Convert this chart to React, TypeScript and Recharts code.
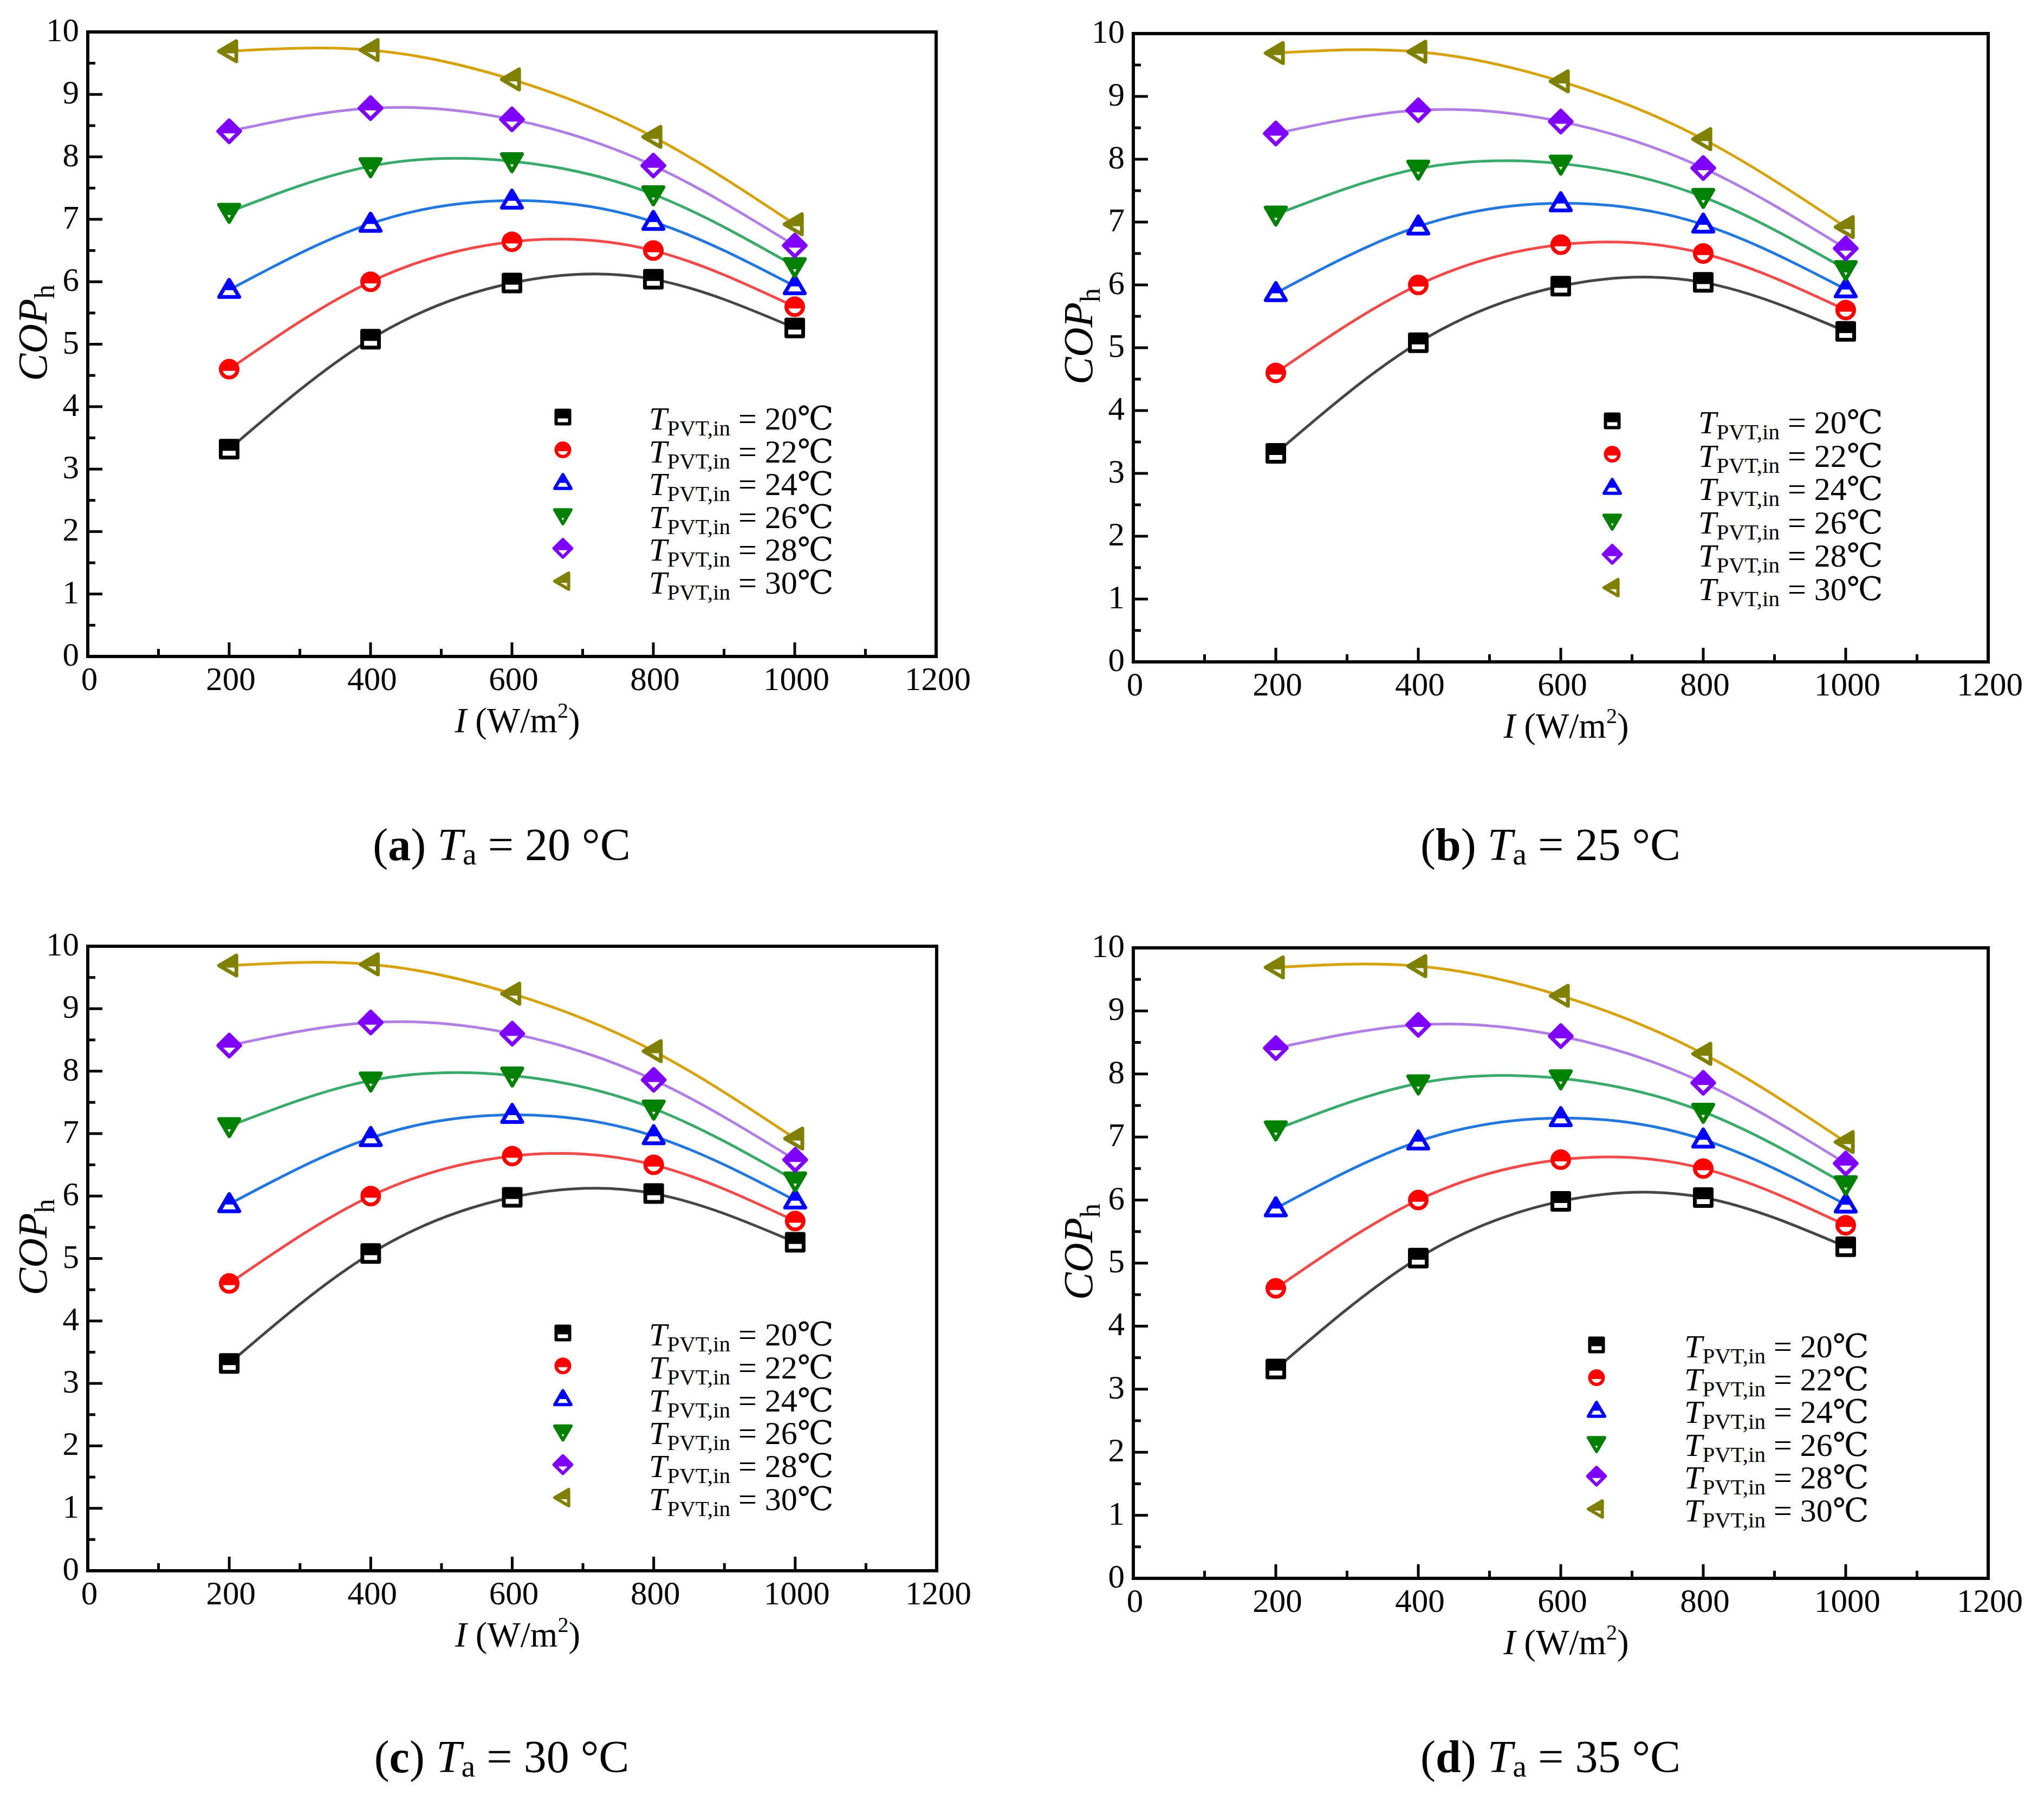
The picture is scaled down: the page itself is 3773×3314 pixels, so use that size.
import React from 'react';
import { LineChart, Line, XAxis, YAxis, ReferenceArea, Legend, Label } from 'recharts';

// ---------- data ----------
const irradiance = [200, 400, 600, 800, 1000];
const copIn20 = [3.32, 5.08, 5.98, 6.04, 5.26];
const copIn22 = [4.6, 6.0, 6.64, 6.5, 5.6];
const copIn24 = [5.87, 6.93, 7.3, 6.96, 5.93];
const copIn26 = [7.12, 7.85, 7.93, 7.4, 6.25];
const copIn28 = [8.41, 8.78, 8.6, 7.86, 6.58];
const copIn30 = [9.69, 9.71, 9.24, 8.32, 6.92];

const xTicks = [0, 100, 200, 300, 400, 500, 600, 700, 800, 900, 1000, 1100, 1200];
const yTicks = [0, 0.5, 1, 1.5, 2, 2.5, 3, 3.5, 4, 4.5, 5, 5.5, 6, 6.5, 7, 7.5, 8, 8.5, 9, 9.5, 10];

const seriesKeys = ['t20', 't22', 't24', 't26', 't28', 't30'];
const seriesTemps = ['20', '22', '24', '26', '28', '30'];
const seriesValues = [copIn20, copIn22, copIn24, copIn26, copIn28, copIn30];
const markerColors = ['#000000', '#ff0000', '#0000ff', '#008000', '#8000ff', '#808000'];
const lineColors = ['#454545', '#f04a4a', '#2277dd', '#3aaa6c', '#b07fe3', '#d6a20c'];
const markerShapes = ['square', 'circle', 'up', 'down', 'diamond', 'left'];

const panelLetters = ['a', 'b', 'c', 'd'];
const ambientTemps = ['20', '25', '30', '35'];

const data = irradiance.map((I, i) => {
  const row: any = { I };
  seriesKeys.forEach((k, j) => {
    row[k] = seriesValues[j][i];
  });
  return row;
});

// ---------- layout ----------
const SERIF = "'Liberation Serif', 'Times New Roman', 'DejaVu Serif', serif";
const DEG = "'Liberation Serif', 'DejaVu Serif', 'Noto Sans CJK SC', serif";

// plot box in chart coords: left = yAxisW, top = mTop, bottom = height - xAxisH
const panels = [
  { left: 0, top: 0, width: 1886, height: 1657, yAxisW: 162, xAxisH: 445, mTop: 59, mRight: 158, symX: 1039, row0: 770, textDx: 159, gap: 60.6, capX: 926, capY: 1588 },
  { left: 1886, top: 0, width: 1887, height: 1657, yAxisW: 206, xAxisH: 435, mTop: 62, mRight: 103, symX: 1090, row0: 777, textDx: 159, gap: 61.6, capX: 2862, capY: 1588 },
  { left: 0, top: 1657, width: 1886, height: 1657, yAxisW: 162, xAxisH: 414, mTop: 90, mRight: 157, symX: 1039, row0: 804, textDx: 159, gap: 60.8, capX: 926, capY: 3272 },
  { left: 1886, top: 1657, width: 1887, height: 1657, yAxisW: 206, xAxisH: 400, mTop: 93, mRight: 103, symX: 1061, row0: 826, textDx: 162, gap: 60.6, capX: 2862, capY: 3272 },
];

// ---------- markers ----------
function shapePoints(shape: string, cx: number, cy: number, s: number): number[][] {
  switch (shape) {
    case 'square':
      return [[cx - s, cy - s], [cx + s, cy - s], [cx + s, cy + s], [cx - s, cy + s]];
    case 'up':
      return [[cx, cy - 1.2 * s], [cx + 1.2 * s, cy + 0.85 * s], [cx - 1.2 * s, cy + 0.85 * s]];
    case 'down':
      return [[cx - 1.2 * s, cy - 0.85 * s], [cx + 1.2 * s, cy - 0.85 * s], [cx, cy + 1.2 * s]];
    case 'diamond':
      return [[cx, cy - 1.3 * s], [cx + 1.3 * s, cy], [cx, cy + 1.3 * s], [cx - 1.3 * s, cy]];
    case 'left':
    default:
      return [[cx - 1.2 * s, cy], [cx + 0.85 * s, cy - 1.2 * s], [cx + 0.85 * s, cy + 1.2 * s]];
  }
}

function clipAbove(pts: number[][], L: number): number[][] {
  const out: number[][] = [];
  for (let i = 0; i < pts.length; i++) {
    const a = pts[i];
    const b = pts[(i + 1) % pts.length];
    const ain = a[1] <= L;
    const bin = b[1] <= L;
    if (ain) out.push(a);
    if (ain !== bin) {
      const t = (L - a[1]) / (b[1] - a[1]);
      out.push([a[0] + t * (b[0] - a[0]), L]);
    }
  }
  return out;
}

const toStr = (pts: number[][]) => pts.map((p) => `${p[0].toFixed(2)},${p[1].toFixed(2)}`).join(' ');

function Marker({ shape, cx, cy, s, w, color }: any) {
  if (cx == null || cy == null || isNaN(cx) || isNaN(cy)) return null;
  const frac = 0.6;
  if (shape === 'circle') {
    const yc = cy - s + 2 * s * frac;
    const dy = yc - cy;
    const dx = Math.sqrt(Math.max(0, s * s - dy * dy));
    return (
      <g>
        <circle cx={cx} cy={cy} r={s} fill="#ffffff" />
        <path d={`M ${cx - dx} ${yc} A ${s} ${s} 0 1 1 ${cx + dx} ${yc} Z`} fill={color} />
        <circle cx={cx} cy={cy} r={s} fill="none" stroke={color} strokeWidth={w} />
      </g>
    );
  }
  const pts = shapePoints(shape, cx, cy, s);
  const ys = pts.map((p) => p[1]);
  const ymin = Math.min(...ys);
  const ymax = Math.max(...ys);
  const top = clipAbove(pts, ymin + frac * (ymax - ymin));
  return (
    <g>
      <polygon points={toStr(pts)} fill="#ffffff" />
      <polygon points={toStr(top)} fill={color} />
      <polygon points={toStr(pts)} fill="none" stroke={color} strokeWidth={w} strokeLinejoin="round" />
    </g>
  );
}

// ---------- axis ticks & titles ----------
const XTick = (p: any) => {
  const v = p.payload.value;
  const major = v % 200 === 0;
  return (
    <g>
      <line x1={p.x} y1={p.y} x2={p.x} y2={p.y - (major ? 26 : 14)} stroke="#000" strokeWidth={5} />
      {major && (
        <text x={p.x + 3} y={p.y + 62} textAnchor="middle" fontSize={61} fontFamily={SERIF} fill="#000">
          {v}
        </text>
      )}
    </g>
  );
};

const YTick = (p: any) => {
  const v = p.payload.value;
  const major = Math.abs(v - Math.round(v)) < 1e-6;
  return (
    <g>
      <line x1={p.x} y1={p.y} x2={p.x + (major ? 27 : 14)} y2={p.y} stroke="#000" strokeWidth={5} />
      {major && (
        <text x={p.x - 16} y={p.y + 17} textAnchor="end" fontSize={61} fontFamily={SERIF} fill="#000">
          {v}
        </text>
      )}
    </g>
  );
};

const renderXTitle = (props: any) => {
  const vb = props.viewBox || {};
  const x = vb.x + vb.width / 2 + 10;
  const y = vb.y + 140;
  return (
    <text x={x} y={y} textAnchor="middle" fontSize={65} fontFamily={SERIF} fill="#000">
      <tspan fontStyle="italic">I</tspan>
      <tspan>{' (W/m'}</tspan>
      <tspan fontSize={40} dy={-27}>2</tspan>
      <tspan fontSize={65} dy={27}>)</tspan>
    </text>
  );
};

const renderYTitle = (props: any) => {
  const vb = props.viewBox || {};
  const x = vb.x + vb.width - 76;
  const y = vb.y + vb.height / 2 + 68;
  return (
    <text x={x} y={y} transform={`rotate(-90 ${x} ${y})`} textAnchor="start" fontSize={76} fontFamily={SERIF} fill="#000">
      <tspan fontStyle="italic">COP</tspan>
      <tspan fontSize={52} dy={14}>h</tspan>
    </text>
  );
};

// ---------- legend ----------
const makeLegend = (panel: any) => () => {
  const h = 60 + panel.gap * 5 + 40;
  return (
    <svg width={640} height={h} style={{ display: 'block', overflow: 'visible' }}>
      {seriesKeys.map((k, i) => {
        const cy = 30 + i * panel.gap;
        const tx = 20 + panel.textDx;
        return (
          <g key={k}>
            <Marker shape={markerShapes[i]} cx={20} cy={cy} s={12.5} w={6} color={markerColors[i]} />
            <text x={tx} y={cy + 23} fontSize={60} fontFamily={SERIF} fill="#000">
              <tspan fontStyle="italic">T</tspan>
              <tspan fontSize={41} dy={11}>PVT,in</tspan>
              <tspan dy={-11}>{' = ' + seriesTemps[i]}</tspan>
              <tspan fontFamily={DEG}>℃</tspan>
            </text>
          </g>
        );
      })}
    </svg>
  );
};

function Panel({ panel }: any) {
  return (
    <div style={{ position: 'absolute', left: panel.left, top: panel.top, width: panel.width, height: panel.height }}>
      <LineChart
        width={panel.width}
        height={panel.height}
        data={data}
        margin={{ top: panel.mTop, right: panel.mRight, bottom: 0, left: 0 }}
      >
        <XAxis
          dataKey="I"
          type="number"
          domain={[0, 1200]}
          ticks={xTicks}
          interval={0}
          height={panel.xAxisH}
          tickSize={0}
          tickMargin={0}
          tickLine={false}
          axisLine={false}
          tick={XTick}
        >
          <Label content={renderXTitle} />
        </XAxis>
        <YAxis
          type="number"
          domain={[0, 10]}
          ticks={yTicks}
          interval={0}
          width={panel.yAxisW}
          tickSize={0}
          tickMargin={0}
          tickLine={false}
          axisLine={false}
          tick={YTick}
        >
          <Label content={renderYTitle} />
        </YAxis>
        <ReferenceArea x1={0} x2={1200} y1={0} y2={10} fill="none" fillOpacity={0} stroke="#000" strokeWidth={6} ifOverflow="visible" />
        {seriesKeys.flatMap((k, i) => [
          <Line
            key={k + '-m'}
            dataKey={k}
            type="natural"
            stroke="none"
            strokeWidth={0}
            isAnimationActive={false}
            activeDot={false}
            dot={(p: any) => (
              <Marker key={`${k}-${p.index}`} shape={markerShapes[i]} cx={p.cx} cy={p.cy} s={15.5} w={7} color={markerColors[i]} />
            )}
          />,
          <Line
            key={k + '-l'}
            dataKey={k}
            type="natural"
            stroke={lineColors[i]}
            strokeWidth={5}
            strokeLinecap="round"
            dot={false}
            activeDot={false}
            legendType="none"
            isAnimationActive={false}
          />,
        ])}
        <Legend
          layout="vertical"
          align="center"
          verticalAlign="middle"
          content={makeLegend(panel)}
          wrapperStyle={{ left: panel.symX - 20, top: panel.row0 - 30, width: 640, height: 60 + panel.gap * 5 + 40, lineHeight: 0 }}
        />
      </LineChart>
    </div>
  );
}

export default function App() {
  return (
    <div style={{ position: 'absolute', left: 0, top: 0, width: 3773, height: 3314, background: '#ffffff', overflow: 'hidden' }}>
      {panels.map((p, i) => (
        <Panel key={i} panel={p} />
      ))}
      <svg width={3773} height={3314} style={{ position: 'absolute', left: 0, top: 0, pointerEvents: 'none' }}>
        {panels.map((p, i) => (
          <text key={i} x={p.capX} y={p.capY} textAnchor="middle" fontSize={84} fontFamily={SERIF} fill="#000">
            <tspan>(</tspan>
            <tspan fontWeight="bold">{panelLetters[i]}</tspan>
            <tspan>{') '}</tspan>
            <tspan fontStyle="italic">T</tspan>
            <tspan fontSize={58} dy={8}>a</tspan>
            <tspan dy={-8}>{' = ' + ambientTemps[i] + ' °C'}</tspan>
          </text>
        ))}
      </svg>
    </div>
  );
}
